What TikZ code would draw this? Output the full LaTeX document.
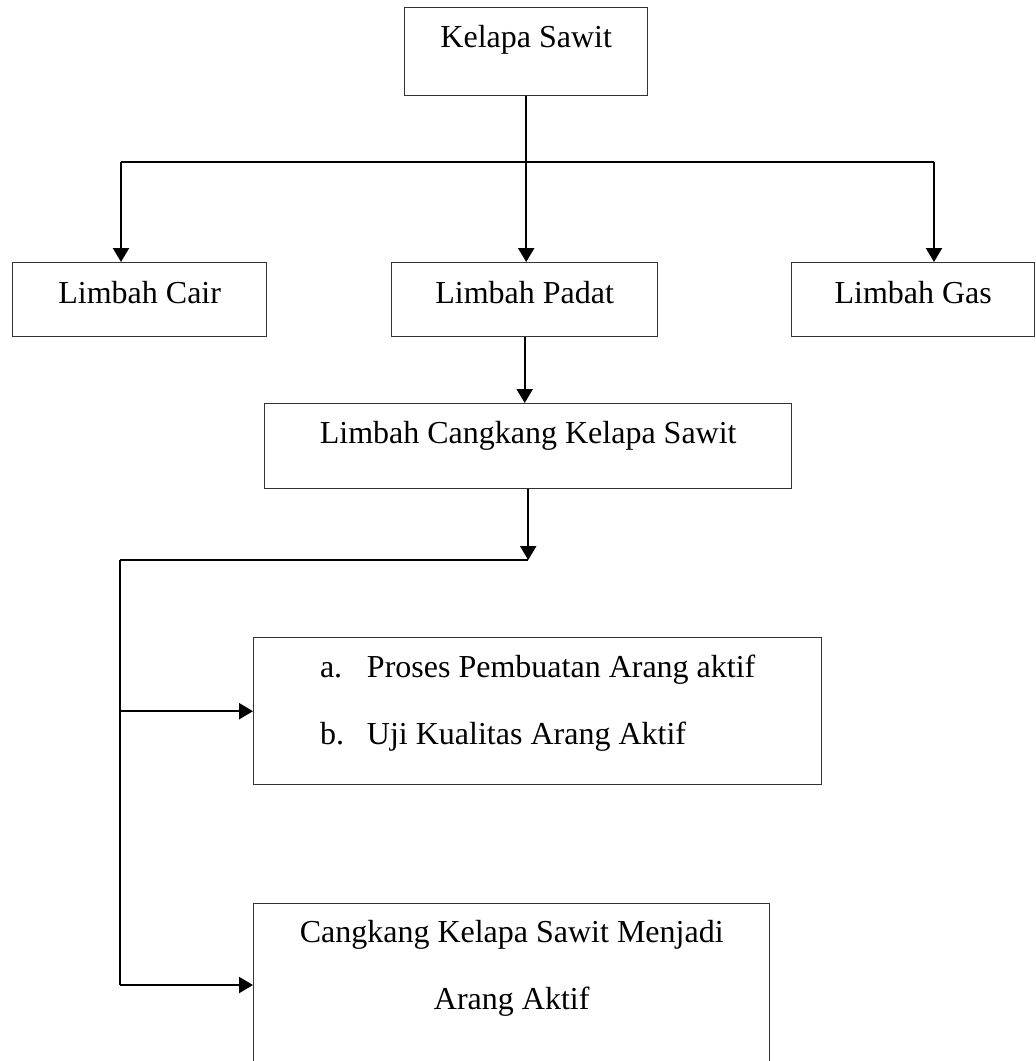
\documentclass[tikz,border=0pt]{standalone}
\usepackage{fontspec}
\setmainfont{Liberation Serif}
\usetikzlibrary{arrows.meta}

\begin{document}
\begin{tikzpicture}[
  x=1pt, y=-1pt, >={Triangle[length=14pt,width=16pt]},
  box/.style={draw=black!80, line width=1.4pt, anchor=north west, inner xsep=0pt, inner ysep=0pt, font=\fontsize{32}{67}\selectfont},
  arrow/.style={->, line width=2.2pt, black},
  line/.style={line width=2.2pt, black}
]
\useasboundingbox (0,0) rectangle (1036,1061);

\node[box, minimum width=243pt, text height=40pt, text depth=48pt] (kelapa) at (404,7) {Kelapa Sawit};
\node[box, minimum width=254pt, text height=41pt, text depth=33pt] (cair) at (12,262) {Limbah Cair};
\node[box, minimum width=266pt, text height=41pt, text depth=33pt] (padat) at (391,262) {Limbah Padat};
\node[box, minimum width=243pt, text height=41pt, text depth=33pt] (gas) at (791,262) {Limbah Gas};
\node[box, minimum width=527pt, text height=40pt, text depth=45pt] (cangkang) at (264,403) {Limbah Cangkang Kelapa Sawit};
\node[box, minimum width=568pt, text height=40pt, text depth=107pt] (proses) at (253,637)
  {\begin{tabular}[t]{@{}p{47pt}@{}l@{}}a.&Proses Pembuatan Arang aktif\\b.&Uji Kualitas Arang Aktif\end{tabular}};
\node[box, minimum width=516pt, text height=39pt, text depth=200pt] (hasil) at (253,903)
  {\begin{tabular}[t]{@{}c@{}}Cangkang Kelapa Sawit Menjadi\\Arang Aktif\end{tabular}};

% cabang limbah
\coordinate (hl) at (121,162);
\coordinate (hr) at (934,162);
\draw[line] (kelapa.south) -- (kelapa.south |- hl);
\draw[line] (hl) -- (hr);
\draw[arrow] (hl) -- (hl |- cair.north);
\draw[arrow] (kelapa.south |- hl) -- (kelapa.south |- padat.north);
\draw[arrow] (hr) -- (hr |- gas.north);
\draw[arrow] (padat.south) -- (padat.south |- cangkang.north);

% cabang cangkang
\coordinate (split) at (120,560);
\coordinate (vend) at (120,985);
\draw[arrow] (cangkang.south) -- (cangkang.south |- split);
\draw[line] (split) -- (cangkang.south |- split);
\draw[line] (split) -- (vend);
\draw[arrow] (split |- proses.west) -- (proses.west);
\draw[arrow] (vend) -- (vend -| hasil.west);

\end{tikzpicture}
\end{document}
